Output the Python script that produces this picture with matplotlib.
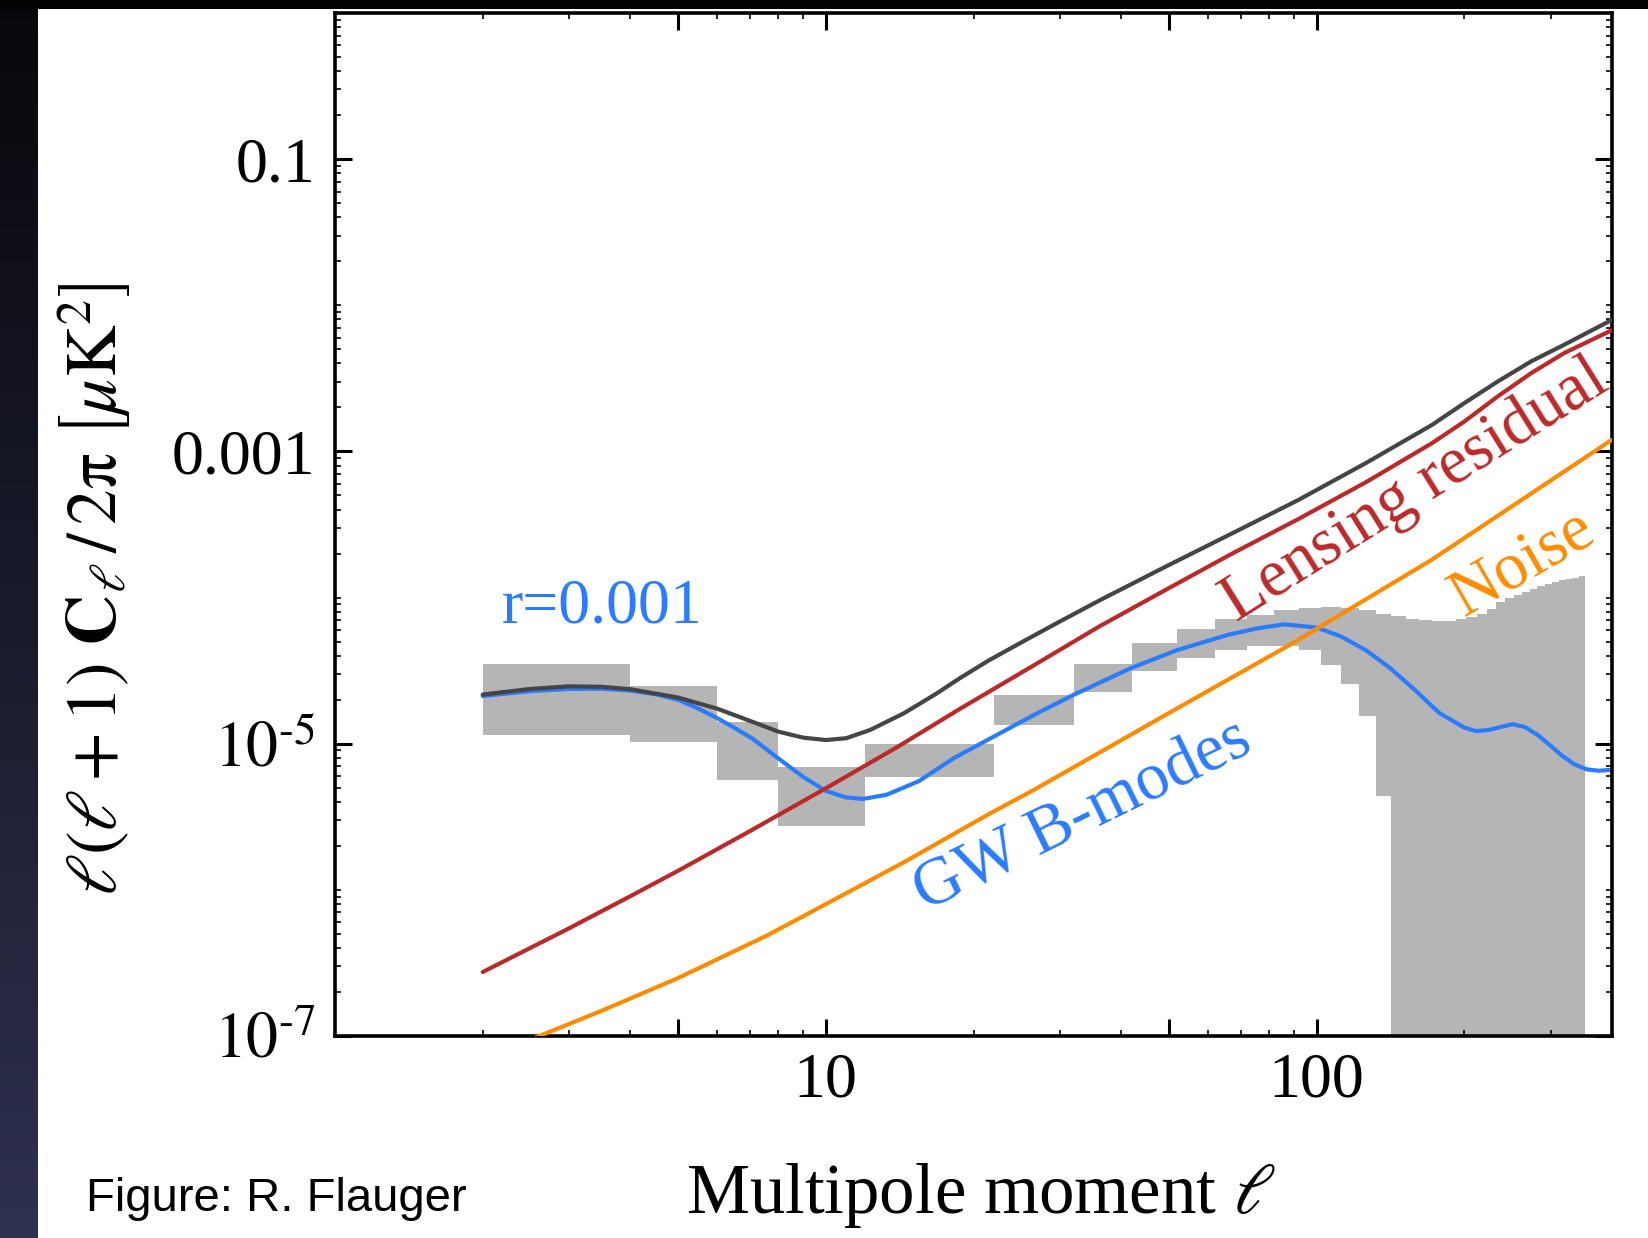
import numpy as np
import matplotlib
matplotlib.use("Agg")
import matplotlib.pyplot as plt
from matplotlib.ticker import FixedLocator, FixedFormatter, NullFormatter
from matplotlib.patches import Rectangle
from matplotlib.colors import LinearSegmentedColormap

# ---------------------------------------------------------------- data
# forecast error band (bin edges in multipole, band lower / upper bounds)
bin_lo = [2, 4, 6, 8, 12, 22, 32, 42,
          52, 62, 72, 82, 92, 102, 112, 122, 132, 142, 152, 162, 172, 182,
          192, 202, 212, 222, 232, 242, 252, 262, 272, 282, 292, 302, 312,
          322, 332, 342]
bin_hi = [4, 6, 8, 12, 22, 32, 42, 52,
          62, 72, 82, 92, 102, 112, 122, 132, 142, 152, 162, 172, 182, 192,
          202, 212, 222, 232, 242, 252, 262, 272, 282, 292, 302, 312, 322,
          332, 342, 352]
band_upper = [3.53e-5, 2.47e-5, 1.41e-5, 6.98e-6, 9.98e-6, 2.17e-5, 3.49e-5, 4.89e-5,
              6.14e-5, 7.19e-5, 7.57e-5, 8.20e-5, 8.55e-5, 8.63e-5, 8.55e-5, 8.20e-5,
              7.78e-5, 7.45e-5, 7.19e-5, 7.00e-5, 6.92e-5, 6.92e-5, 7.08e-5, 7.38e-5,
              7.78e-5, 8.41e-5, 9.33e-5, 9.86e-5, 1.04e-4, 1.09e-4, 1.15e-4, 1.20e-4,
              1.24e-4, 1.28e-4, 1.32e-4, 1.34e-4, 1.37e-4, 1.40e-4]
band_lower = [1.15e-5, 1.02e-5, 5.69e-6, 2.74e-6, 5.89e-6, 1.35e-5, 2.25e-5, 3.13e-5,
              3.85e-5, 4.41e-5, 4.65e-5, 4.65e-5, 4.36e-5, 3.44e-5, 2.58e-5, 1.55e-5,
              4.42e-6, 0, 0, 0, 0, 0, 0, 0, 0, 0, 0, 0, 0, 0, 0, 0, 0, 0, 0, 0, 0, 0]

# GW B-modes for r = 0.001
ell_gw = [2.0, 2.5, 3.0, 3.5, 4.0, 4.5, 5.0, 5.5, 6.0, 6.5, 7.1, 8.0, 9.0, 10.0,
          11.0, 11.9, 13.3, 15.5, 18.2, 22.6, 27, 32, 42, 52, 66, 76, 86,
          100, 112, 126, 141, 158.5, 178, 200, 211, 224, 237, 251, 266, 282,
          299, 316, 335, 355, 376, 400]
cl_gw = [2.12e-5, 2.29e-5, 2.37e-5, 2.38e-5, 2.31e-5, 2.18e-5, 2.00e-5, 1.74e-5,
         1.50e-5, 1.29e-5, 1.08e-5, 7.94e-6, 5.92e-6, 4.76e-6,
         4.29e-6, 4.19e-6, 4.47e-6, 5.56e-6, 7.94e-6, 1.175e-5, 1.62e-5, 2.16e-5,
         3.31e-5, 4.37e-5, 5.56e-5, 6.17e-5, 6.56e-5,
         6.24e-5, 5.43e-5, 4.37e-5, 3.31e-5, 2.34e-5, 1.62e-5, 1.29e-5, 1.22e-5,
         1.24e-5, 1.30e-5, 1.36e-5, 1.30e-5, 1.15e-5, 9.77e-6, 8.32e-6, 7.24e-6,
         6.68e-6, 6.53e-6, 6.64e-6]

# lensing residual
ell_lens = [2, 3, 4, 5, 7, 10, 14, 18.7, 26, 36.1, 49.3, 67.3, 91.9, 126, 172,
            200, 234, 274, 320, 400]
cl_lens = [2.74e-7, 5.46e-7, 9.06e-7, 1.35e-6, 2.52e-6, 4.95e-6, 9.50e-6, 1.72e-5,
           3.30e-5, 6.35e-5, 1.13e-4, 2.00e-4, 3.45e-4, 6.15e-4, 1.14e-3, 1.60e-3,
           2.38e-3, 3.44e-3, 4.72e-3, 6.76e-3]

# instrumental noise
ell_noise = [2, 2.61, 3.48, 5.0, 7.6, 11.4, 14.6, 21.5, 26.4, 50, 89.1, 171.5, 395, 400]
cl_noise = [7.1e-8, 1.0e-7, 1.48e-7, 2.49e-7, 4.88e-7, 1.01e-6, 1.58e-6, 3.30e-6,
            4.78e-6, 1.62e-5, 4.84e-5, 1.81e-4, 1.17e-3, 1.20e-3]

# total spectrum
ell_tot = [2.0, 2.5, 3.0, 3.5, 4.0, 5.0, 6.0, 7.1, 8.0, 9.0, 10.0, 11.0, 12.3, 14.4,
           16.8, 18.7, 21.5, 25.0, 29.8, 36.1, 49.3, 67.3, 91.9, 126, 172, 200,
           234, 274, 320, 395, 400]
cl_tot = [2.17e-5, 2.37e-5, 2.47e-5, 2.45e-5, 2.36e-5, 2.07e-5, 1.74e-5, 1.41e-5,
          1.21e-5, 1.10e-5, 1.06e-5, 1.09e-5, 1.24e-5, 1.61e-5, 2.20e-5, 2.79e-5,
          3.72e-5, 4.92e-5, 6.78e-5, 9.55e-5, 1.63e-4, 2.75e-4, 4.66e-4, 8.32e-4,
          1.52e-3, 2.14e-3, 3.01e-3, 4.14e-3, 5.38e-3, 7.78e-3, 7.94e-3]

x_major = [5, 10, 50, 100]
x_major_labels = ["", "10", "", "100"]
x_minor = [2, 3, 4, 6, 7, 8, 9, 20, 30, 40, 60, 70, 80, 90, 200, 300]
y_major = [1e-7, 1e-5, 1e-3, 1e-1]
y_major_labels = [r"$10^{\text{-}7}$", r"$10^{\text{-}5}$", "0.001", "0.1"]

# ---------------------------------------------------------------- style
plt.rcParams["font.family"] = ["Liberation Serif", "DejaVu Serif"]
plt.rcParams["mathtext.fontset"] = "stix"

BLUE, RED, ORANGE, DARK = "#2b7bff", "#bb2a2a", "#ff8c00", "#454545"

W, H = 1649, 1238
fig = plt.figure(figsize=(W / 100, H / 100), dpi=100, facecolor="white")

# slide frame: dark strip on the left, black band on top
strip = fig.add_axes([0, 0, 38 / W, 1])
strip.axis("off")
cmap = LinearSegmentedColormap.from_list("frame", ["#08080c", "#1a1b2c", "#2e3150"])
strip.imshow(np.linspace(0, 1, 256)[:, None], aspect="auto", cmap=cmap,
             extent=[0, 1, 0, 1])
fig.patches.append(Rectangle((0, 1 - 9 / H), 1, 9 / H, transform=fig.transFigure,
                             facecolor="#030303", edgecolor="none", zorder=5))

ax = fig.add_axes([335 / W, 1 - 1036 / H, (1612 - 335) / W, (1036 - 13) / H])
ax.set_xscale("log")
ax.set_yscale("log")
ax.set_xlim(1, 400)
ax.set_ylim(1e-7, 1)

# error band as one stepped polygon
edges = list(bin_lo) + [bin_hi[-1]]
lower = [v if v > 0 else 1e-9 for v in band_lower]
ax.fill_between(edges, lower + [lower[-1]], list(band_upper) + [band_upper[-1]],
                step="post", color="#b5b5b5", linewidth=0, zorder=1)

line_kw = dict(lw=3.0, solid_joinstyle="round", solid_capstyle="round")
ax.plot(ell_gw, cl_gw, color=BLUE, zorder=2, **line_kw)
ax.plot(ell_tot, cl_tot, color=DARK, zorder=3, **line_kw)
ax.plot(ell_lens, cl_lens, color=RED, zorder=4, **line_kw)
ax.plot(ell_noise, cl_noise, color=ORANGE, zorder=5, **line_kw)

# ticks
ax.xaxis.set_major_locator(FixedLocator(x_major))
ax.xaxis.set_major_formatter(FixedFormatter(x_major_labels))
ax.xaxis.set_minor_locator(FixedLocator(x_minor))
ax.xaxis.set_minor_formatter(NullFormatter())

y_minor = [m * 10.0 ** e for e in range(-7, 0) for m in range(1, 10)
           if m * 10.0 ** e not in y_major]
ax.yaxis.set_major_locator(FixedLocator(y_major))
ax.yaxis.set_major_formatter(FixedFormatter(y_major_labels))
ax.yaxis.set_minor_locator(FixedLocator(y_minor))
ax.yaxis.set_minor_formatter(NullFormatter())

ax.tick_params(which="both", direction="in", top=True, right=True, colors="black")
ax.tick_params(which="major", length=12, width=2.2, labelsize=46)
ax.tick_params(which="minor", length=4.5, width=1.2)
ax.tick_params(axis="x", which="major", pad=12)
ax.tick_params(axis="y", which="major", pad=14)
for s in ax.spines.values():
    s.set_linewidth(2.6)

ax.set_xlabel(r"Multipole moment $\ell$", fontsize=51)
ax.xaxis.set_label_coords(0.506, -0.122)
ax.set_ylabel(r"$\ell(\ell+1)\ \mathbf{C}_{\ell}\,/\,2\mathrm{\pi}\ \left[\mu\mathrm{K}^2\right]$",
              fontsize=51)
ax.yaxis.set_label_coords(-0.158, 0.437)

# curve labels
ax.text(2.19, 6.7e-5, "r=0.001", color=BLUE, fontsize=46,
        ha="left", va="baseline")
ax.text(159, 5.4e-4, "Lensing residual", color=RED, fontsize=48,
        rotation=32, rotation_mode="anchor", ha="center", va="center")
ax.text(263, 1.69e-4, "Noise", color=ORANGE, fontsize=48,
        rotation=30, rotation_mode="anchor", ha="center", va="center")
ax.text(33.4, 3.17e-6, "GW B-modes", color=BLUE, fontsize=48,
        rotation=26, rotation_mode="anchor", ha="center", va="center")

fig.text(86 / W, 1 - 1199 / H, "Figure: R. Flauger", fontsize=34,
         family="Liberation Sans", ha="left", va="center", color="black")

fig.savefig("out.png", dpi=100, facecolor="white")
